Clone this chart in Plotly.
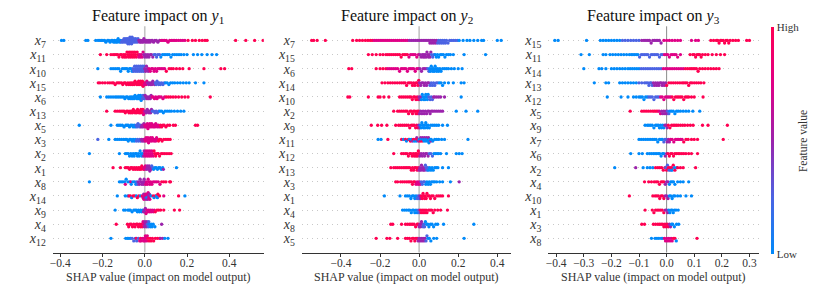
import numpy as np
import plotly.graph_objects as go

# ---------------- data (SHAP values in units of 1e-3, grouped by feature-value level 0..4) -------------
y1_features = ["7", "11", "10", "15", "6", "13", "5", "3", "2", "1", "8", "14", "9", "4", "12"]
y1_points = [
    {0: [-394, -383, -279, -269, -232, -221, -212, -205, -198, -190, -184, -176, -170, -164, -158, -152, -147, -143, -138, -134, -130, -126, -122, -118, -114],
     1: [-110, -106, -102, -98, -95, -92, -89, -86, -84, -82, -80, -78, -76, -74, -72, -70, -68, -66, -64, -62, -60, -58, -55, -52, -49, -46, -43, -40, -36, -32],
     2: [-28, -24, -20, -16, -12, -8, -4, 0, 5, 10, 15, 20, 25, 30, 36, 42, 48, 55, 62, 70],
     3: [78, 86, 94, 102, 110, 118, 126, 134, 142, 150, 160, 170, 180, 190],
     4: [205, 225, 240, 258, 272, 285, 295, 430, 478, 520, 560]},
    {4: [-210, -180, -160, -150, -142, -135, -128, -122, -116, -110, -105, -100, -96, -92, -88, -84, -80, -77, -74, -71, -68, -65, -62, -59, -56, -53, -50, -47, -44, -40, -36, -32],
     3: [-28, -24, -20, -16, -12, -8],
     2: [-4, 0, 5, 10, 15, 20, 26, 32, 38],
     1: [44, 50, 56, 62, 70],
     0: [76, 84, 92, 100, 108, 116, 124, 132, 142, 152, 162, 172, 185, 200, 230, 250, 270, 295, 318, 340]},
    {0: [-222, -160, -150, -140, -130, -122, -114, -106, -98, -90, -84, -78, -72, -66, -60],
     1: [-56, -52, -48, -45, -42, -39, -36, -33, -30, -27, -24, -21, -18, -15, -12, -9, -6, -3],
     2: [0, 4, 8, 12, 16],
     3: [20, 26, 32, 38, 44, 50, 56, 62, 70, 78, 86, 94],
     4: [102, 115, 125, 135, 150, 165, 180, 210, 280, 360, 378]},
    {4: [-220, -212, -200, -188, -175, -165, -155, -148, -140, -132, -125, -118, -110, -104, -98, -92, -86, -80, -75, -70, -66, -62, -58, -54, -50, -46, -42, -38, -35, -32, -29, -26, -23, -20, -17, -14, -11, -8, -5],
     3: [-2, 2, 6, 10],
     2: [14, 18, 22, 26, 30, 34, 38, 42, 46],
     1: [50, 54, 58, 62, 66, 70, 74, 80, 86, 92],
     0: [98, 106, 114, 122, 132, 142, 155, 168, 182, 196, 210, 240, 280]},
    {0: [-210, -180, -170, -160, -150, -140, -132, -124, -116, -108, -100, -94, -88, -82, -76, -70, -66, -62, -58, -54, -50, -46, -42, -38, -35, -32, -29, -26, -23, -20, -17, -14],
     1: [-11, -8, -5, -2],
     2: [2, 6, 10, 14, 18, 22, 26, 30],
     3: [34, 40, 46, 52, 58, 64, 70, 78, 86, 94],
     4: [102, 112, 122, 134, 146, 160, 175, 190, 205, 310]},
    {4: [-180, -140, -130, -120, -112, -104, -98, -92, -86, -80, -75, -70, -66, -62, -58, -54, -50, -46, -42, -38, -34, -30, -27, -24, -21, -18, -15, -12, -9],
     3: [-6, -3, 0],
     2: [4, 8, 12, 16, 20, 24, 28, 32],
     1: [36, 42, 48, 54, 60, 66],
     0: [72, 80, 88, 96, 106, 116, 126, 140, 155, 170, 185]},
    {0: [-310, -160, -130, -122, -114, -106, -98, -90, -84, -78, -72, -66, -60, -55, -50, -45],
     1: [-40, -36, -32, -28, -24, -20],
     2: [-16, -12, -8, -4],
     3: [0, 3, 6, 9, 12, 15, 18, 21, 24, 27, 30, 33, 36, 40, 44, 48, 52, 56, 60, 65, 70],
     4: [75, 80, 86, 92, 100, 108, 118, 135, 145, 240, 250]},
    {0: [-170, -140, -130, -120, -110, -100, -92, -85, -78, -72, -66, -60, -55, -50, -45],
     1: [-222, -40, -35, -30, -25, -20],
     2: [-16, -12, -8, -4],
     3: [0, 3, 6, 9, 12, 15, 18, 21, 24, 27, 30, 33, 36, 40, 44, 48, 52, 56, 60],
     4: [65, 70, 76, 82, 90, 100, 110, 120]},
    {0: [-262, -120, -92, -85, -78, -72, -66, -60, -55, -50, -45, -40, -35, -30, -26, -22, -18, -14, -10],
     2: [-6, -3],
     3: [0, 3, 6, 9, 12, 15, 18, 21, 24, 27, 30, 33, 36, 40],
     4: [44, 48, 52, 58, 64, 70, 78, 86, 95, 105, 115, 125]},
    {4: [-150, -115, -92, -85, -78, -72, -66, -60, -55, -50, -45, -40, -35, -30, -26, -22, -18, -14, -10, -6],
     3: [-3, 0, 3, 6],
     2: [9, 12, 15, 18, 21, 24, 27, 30, 88],
     1: [33, 38],
     0: [42, 48, 54, 60, 66, 72, 78, 85, 150]},
    {0: [-262, -120, -112, -104, -96, -88, -80, -72, -64, -56, -48, -42],
     1: [-38, -34],
     2: [-30, -26, -22, -18, -14, -10, -6, -3, 0],
     3: [-92, -66, 4, 8, 12, 16, 20, 24, 28, 34, 40, 48, 56, 64, 72],
     4: [80, 90, 100, 118, 122]},
    {0: [-130, -92, -80, -62, -40, -20, 10, 30, 44, 55, 60, 190],
     2: [-5, 2, 6, 14, 18, 22],
     3: [-8, -4, 0, 4, 8, 12, 16, 20, 24, 90],
     4: [-75, -68, -55, -48, -35, -28, -12, 40, 50, 62, 70, 160]},
    {0: [-140, -100, -92, -80, -74, -68, -60, -52, -46, -40, -35, -30, -25, -20, -15, -10],
     2: [-6, -3, 0, 3],
     3: [6, 10, 14, 18, 22, 26, 30, 35, 40, 45],
     4: [50, 58, 66, 75, 90, 140, 165]},
    {4: [-135, -82, -76, -70, -64, -58, -52, -46, -40, -35, -30, -25, -20, -16, -12],
     3: [-8, -5],
     2: [-2, 1, 4, 7, 10, 80],
     1: [13, 16, 19],
     0: [22, 26, 30, 35, 40, 48]},
    {0: [-160, -90, -82, -75, -68, 95, 110],
     1: [-60, -52, -45, -38, -30],
     2: [75, 85],
     3: [-24, -18, -12, -6, -3, 0, 3, 6, 9, 12],
     4: [-40, -20, 15, 20, 25, 30, 36, 42, 50, 60, 70]},
]

y2_features = ["7", "15", "6", "14", "10", "2", "9", "11", "12", "13", "3", "1", "4", "8", "5"]
y2_points = [
    {4: [-550, -540, -522, -480, -340, -320, -305, -290, -275, -262, -250, -240],
     3: [-230, -220, -210, -200, -190, -180, -170, -160, -150, -140, -130, -120, -110, -100, -90, -80, -70, -60],
     2: [-50, -40, -30, -20, -10, 0, 10, 20, 30, 40, 50, 55, 60, 65, 70, 75, 80, 85, 90],
     1: [95, 100, 105, 110, 115, 120, 125, 130, 135, 140, 148, 156, 165, 175, 185, 195],
     0: [205, 225, 245, 260, 280, 300, 320, 330, 400, 420]},
    {4: [-260, -240, -220, -200, -185, -170, -160, -150, -140, -130, -120, -110, -100, -92, -84, -76, -68, -60],
     3: [-52, -44, -36, -28, -20, -12, -4],
     2: [4, 10, 16, 20, 24, 28, 32, 36, 40, 44, 48, 52, 56, 60],
     1: [64, 70, 76],
     0: [82, 88, 94, 100, 108, 116, 124, 132, 140, 150, 160, 175, 230, 340]},
    {4: [-360, -345, -220, -200, -185, -170],
     3: [-160, -150, -140, -130, -120, -110, -100, -92, -84, -76, -68, -60, -52, -44, -36, -28, -20, -12, -4],
     2: [4, 12, 20, 28, 36],
     1: [44, 50],
     0: [54, 58, 62, 66, 70, 74, 78, 82, 86, 90, 95, 100, 106, 112, 120, 130, 140, 150, 165, 180, 200, 220]},
    {4: [-190, -175, -160, -148, -136, -124, -112, -100, -90, -80, -72, -64, -56, -48, -40, -34, -28, -22, -16, -10, -6, -2],
     2: [2, 8, 14, 20, 26, 32, 38, 44, 50],
     1: [56, 62, 68, 74, 80, 88, 96],
     0: [104, 112, 120, 130, 150, 175, 215, 230]},
    {4: [-365, -355, -260, -210, -200, -180, -155, -100, -90, -80, -70, -60, -50, -42, -35, -28, -22, -16, -10, -5],
     2: [0, 4, 8, 74, 80, 90, 100, 110, 130],
     0: [12, 16, 20, 24, 28, 30, 34, 38, 42, 46, 215],
     1: [50, 56, 62, 68]},
    {4: [-130, -110, -100, -90, -80, -70, -62, -54, -46, -40, -34, -28, -22, -16, -10, -6, -2],
     2: [2, 8, 14, 20, 26, 32, 38, 44, 50, 56, 62, 70, 80, 90, 100, 110, 120],
     0: [190, 240, 300]},
    {4: [-245, -212, -192, -165, -120, -105, -95, -85, -75, -65, -55, -48, -40, -32, -25, -18, -12, -6],
     2: [-2, 2],
     0: [6, 10, 14, 18, 22, 26, 30, 34, 38, 42, 46, 52, 60, 70, 80, 90, 100, 120, 145]},
    {0: [-210, -195, -80, -65, -50, -40, -25, -15, 0, 10, 20, 25, 30, 35, 40, 45, 50, 55, 62, 70, 80, 90, 100, 115, 130, 250],
     4: [-160, -90, -70, -55, -45, -30, -20, -8, 5, 15],
     2: [-35, -12, -4, 8, 18, 28, 38, 48, 60]},
    {4: [-130, -90, -80, -70, -62, -55, -48, -42, -36, -30, -25, -20, -16, -12, -8, -4, 0],
     2: [4, 10, 16, 22, 28, 34, 40, 46],
     1: [52, 60, 68],
     0: [76, 84, 92, 100, 110, 140, 190, 205, 220]},
    {4: [-145, -130, -120, -110, -100, -90, -80, -72, -64, -56, -48, -40, -34, -28, -22, -16, -10, -5],
     2: [0, 4, 8, 12, 16, 20, 24, 28],
     1: [32, 36, 40, 44],
     0: [48, 54, 60, 66, 72, 80, 88, 96, 120, 150]},
    {4: [-120, -110, -95, -85, -75, -65, -56, -48, -40, -34, -28, -22],
     3: [-16, -10, -5, 0, 5],
     1: [10, 16, 22, 28],
     0: [34, 40, 46, 52, 58, 64, 72, 80, 90, 105, 120, 160],
     2: [205]},
    {0: [-178, -98, -70, -60, -50, -42, -35, -28, -22, -16],
     1: [-10, -5, 0],
     2: [4, 8],
     4: [12, 16, 20, 24, 28, 32, 36, 40, 46, 52, 58, 64, 72, 80, 90, 100, 110, 120, 150]},
    {0: [-85, -75, -65, -55, -48, -40, -34, -28, -22, -16, -10],
     1: [-5, 0],
     4: [5, 10, 15, 20, 25, 30, 35, 40, 48, 56, 64, 72, 80, 95, 110, 145]},
    {4: [-145, -135, -90, -70, -60, -50, -42, -34, -26, -18, -10, -5],
     2: [0, 4, 8, 12, 16],
     1: [20, 24, 28],
     0: [32, 38, 44, 50, 58, 66, 74, 85, 95, 125, 280]},
    {4: [-220, -165, -150, -110, -70, -60, -50, -42, -35, -28, -22, -16, -10],
     2: [-5, 0, 5, 10, 15, 20, 25, 30],
     1: [35, 40],
     0: [45, 52, 60, 75, 90, 230]},
]

y3_features = ["15", "11", "14", "13", "12", "5", "9", "7", "6", "2", "4", "10", "1", "3", "8"]
y3_points = [
    {0: [-405, -393, -290, -240, -230, -220, -210, -200, -190, -180, -170],
     1: [-160, -150, -140, -130, -120, -110, -100],
     2: [-90, -82, -75, -68, -62, -56, -50, -44, -38, -32, -26, -20],
     3: [-10, 0, 10, 20, 30, 40, 50, 90, 105, 115],
     4: [160, 170, 180, 185, 190, 195, 200, 205, 210, 215, 220, 225, 230, 240, 250, 260, 290, 300]},
    {0: [-310, -280, -230, -220, -205, -195, -185, -175, -165, -155, -145, -135, -128, -122, -116, -110, -104],
     1: [-98, -92, -86, -80, -74, -68, -62, -56, -50, -44, -38, -32, -26, -20, -14],
     3: [-8, -2, 4, 10, 16, 22, 28, 34, 40, 50],
     4: [85, 95, 100, 105, 110, 115, 120, 125, 130, 140, 150, 165, 180, 195, 210]},
    {0: [-300, -245, -235, -220, -200, -190, -180, -170, -160, -150, -140, -132, -124, -116, -108, -100],
     1: [-92, -84, -76, -68, -60, -52, -44, -36, -28, -20],
     3: [-12, -4, 4, 12, 20, 28, 36, 44, 52, 60],
     4: [68, 76, 84, 90, 96, 102, 108, 114, 120, 130, 140, 150, 160, 170, 180, 190]},
    {0: [-262, -220, -210, -170, -160, -150, -140, -130, -120, -110],
     1: [-100, -90, -80, -74, -68, -64, -60, -56, -52],
     2: [-48, -44, -40, -36, -32, -28, -24, -20, -16, -12, -8, -4],
     4: [0, 8, 16, 24, 32, 40, 48, 56, 62, 68, 74, 80, 86, 92, 100, 108, 116, 124, 135]},
    {0: [-215, -165, -140, -120, -110, -100, -94, -88, -82, -76, -70],
     1: [-64, -58, -52, -46, -40, -34, -28],
     3: [-22, -16, -10, -4, 2, 8, 14],
     4: [20, 26, 32, 38, 44, 50, 56, 62, 68, 74, 80, 90, 100, 132]},
    {4: [-132, -90, -82, -74, -66, -58, -50, -44, -38, -32],
     3: [-27, -22],
     2: [-18, -14, -10, -6, -2, 1],
     1: [4, 8],
     0: [12, 18, 24, 30, 36, 42, 50, 60, 70, 80, 95, 120]},
    {0: [-78, -70, -64, -58, -52, -46, -40, -35, -30, -26, -22, -18, -14, -10],
     2: [-6, -2, 2],
     4: [6, 12, 18, 24, 30, 36, 42, 50, 58, 66, 76, 86, 96, 130, 150, 220]},
    {0: [-100, -92, -84, -76, -68, -60, -52, -45, -38, -32, -26, -20, -15],
     1: [-10, -6, -2],
     2: [2, 6, 10],
     3: [14, 20, 26, 32, 38, 44, 50, 56],
     4: [62, 70, 78, 90, 100, 112, 205]},
    {0: [-130, -100, -88, -70, -62, -55, -48, -42, -36, -30, -25, -20, -15, -10],
     2: [-5, 0],
     4: [5, 10, 15, 20, 25, 30, 36, 42, 48, 55, 62, 70, 80, 90, 112]},
    {0: [-188, -85, -70, -60, -50, 20, 28, 36],
     2: [-112],
     1: [-3, 3, 9, 15],
     4: [-40, -32, -25, -18, -12, -6, 0, 6, 12, 18, 24, 30, 40, 50, 60, 105]},
    {4: [-80, -65, -55, -45, -38, -32, -26, -20, -15, -10],
     2: [-5, 0, 5],
     0: [10, 15, 20, 25, 30, 40, 50, 60, 80]},
    {4: [-135, -50, -42, -36, -30, -25, -20, -15, -10],
     2: [-5, 0, 5],
     0: [10, 15, 20, 25, 30, 40, 50, 70, 90]},
    {4: [-78, -52, -46, -40, -34, -28, -22, -16, -10],
     2: [-5, 0, 4],
     0: [8, 12, 16, 20, 24, 28, 34, 42]},
    {4: [-90, -80, -48, -40, -32, -26, -20, -14, -10, -6, -2, 2, 6],
     2: [10, 14],
     0: [18, 22, 28, 36, 44]},
    {0: [-55, -42, -35, -28, -20, -14, 35],
     3: [-8, -4, 0, 4, 8, 12, 16, 20],
     4: [24, 30, 110]},
]

panel_titles = ["Feature impact on <i>y</i><sub>1</sub>",
                "Feature impact on <i>y</i><sub>2</sub>",
                "Feature impact on <i>y</i><sub>3</sub>"]
x_title = "SHAP value (impact on model output)"
x_tick_step = [0.2, 0.2, 0.1]
x_ranges = [[-0.435, 0.563], [-0.600, 0.471], [-0.4285, 0.333]]

# ---------------- layout constants ----------------
W, H = 830, 293
x_dom_px = [[50, 261.7], [300, 510], [547.3, 758.3]]
y_top_px, y_bot_px = 26.3, 252.5
FONT = "Liberation Serif, Times New Roman, DejaVu Serif, serif"
TXT = "#333333"

colorscale = [[0.0, "rgb(0,138,250)"], [0.25, "rgb(75,99,227)"], [0.5, "rgb(156,35,172)"],
              [0.75, "rgb(224,0,134)"], [1.0, "rgb(255,0,82)"]]


def swarm_offsets(vals, binw, row_height=0.4):
    """SHAP-style beeswarm vertical offsets."""
    vals = np.asarray(vals, float)
    q = np.round((vals - vals.min()) / binw)
    order = np.argsort(q, kind="stable")
    ys = np.zeros(len(vals))
    layer, last = 0, None
    for idx in order:
        if q[idx] != last:
            layer = 0
        ys[idx] = np.ceil(layer / 2) * ((layer % 2) * 2 - 1)
        layer += 1
        last = q[idx]
    ys *= 0.9 * (row_height / np.max(ys + 1))
    return ys


fig = go.Figure()
panels = [(y1_features, y1_points), (y2_features, y2_points), (y3_features, y3_points)]
ydom = [1 - y_bot_px / H, 1 - y_top_px / H]

for p, (feats, rows) in enumerate(panels):
    n = p + 1
    sx = "x" if n == 1 else f"x{n}"
    sy = "y" if n == 1 else f"y{n}"
    xr = x_ranges[p]
    dpx = x_dom_px[p]
    units_per_px = (xr[1] - xr[0]) / (dpx[1] - dpx[0])
    binw = 2.0 * units_per_px
    xs, ys, cs = [], [], []
    for i, row in enumerate(rows):
        pts = sorted((v / 1000.0, lvl / 4.0) for lvl, vs in row.items() for v in vs)
        v = np.array([a for a, _ in pts])
        c = np.array([b for _, b in pts])
        off = swarm_offsets(v, binw)
        xs.extend(v.tolist())
        ys.extend((i + off).tolist())
        cs.extend(c.tolist())
    marker = dict(size=3.3, color=cs, colorscale=colorscale, cmin=0, cmax=1, line=dict(width=0))
    if p == 0:
        marker.update(showscale=True, colorbar=dict(
            thickness=3, thicknessmode="pixels", len=(254 - 26.7) / H, lenmode="fraction",
            x=770.7 / W, xanchor="left", y=1 - (26.7 + 254) / 2 / H, yanchor="middle",
            outlinewidth=0, tickvals=[0, 1], ticktext=["Low", "High"], ticks="",
            tickfont=dict(family=FONT, size=11, color=TXT), xpad=0, ypad=0))
    fig.add_trace(go.Scatter(x=xs, y=ys, mode="markers", marker=marker,
                             xaxis=sx, yaxis=sy, hoverinfo="skip", showlegend=False))

    ax = "xaxis" if n == 1 else f"xaxis{n}"
    ay = "yaxis" if n == 1 else f"yaxis{n}"
    step = x_tick_step[p]
    tv = np.round(np.arange(np.ceil(xr[0] / step) * step, xr[1] + 1e-9, step), 2)
    fig.update_layout({
        ax: dict(domain=[dpx[0] / W, dpx[1] / W], range=xr, anchor=sy,
                 tickvals=tv.tolist(), ticktext=[("\u2212" if t < 0 else "") + f"{abs(t):.1f}" for t in tv],
                 showline=True, linecolor=TXT, linewidth=1, ticks="outside", ticklen=3,
                 tickcolor=TXT, tickwidth=1, showgrid=False, zeroline=False, ticklabelstandoff=-3,
                 tickfont=dict(family=FONT, size=11.5, color=TXT)),
        ay: dict(domain=ydom, range=[15, -1], anchor=sx,
                 tickvals=list(range(len(feats))),
                 ticktext=[f"<i>x</i><sub>{f}</sub>" for f in feats],
                 ticks="", showline=False, zeroline=False, ticklabelstandoff=6,
                 showgrid=True, gridcolor="#c8c8c8", gridwidth=0.6, griddash="1px,4px",
                 tickfont=dict(family=FONT, size=14, color=TXT)),
    })
    zc, zw = ("#c4c4c4", 1.6) if p < 2 else ("#8c8c8c", 1.0)
    fig.add_shape(type="line", xref=sx, yref=f"{sy} domain", x0=0, x1=0, y0=0, y1=1,
                  line=dict(color=zc, width=zw), layer="below")
    cx = (dpx[0] + dpx[1]) / 2 / W
    fig.add_annotation(text=panel_titles[p], xref="paper", yref="paper",
                       x=cx, y=1 - 17 / H, xanchor="center", yanchor="middle",
                       showarrow=False, font=dict(family=FONT, size=16, color="#111111"))
    fig.add_annotation(text=x_title, xref="paper", yref="paper",
                       x=cx, y=1 - 276.5 / H, xanchor="center", yanchor="middle",
                       showarrow=False, font=dict(family=FONT, size=12, color=TXT))

fig.add_annotation(text="Feature value", xref="paper", yref="paper", x=803 / W, y=1 - 141 / H,
                   textangle=-90, showarrow=False, xanchor="center", yanchor="middle",
                   font=dict(family=FONT, size=11.5, color=TXT))

fig.update_layout(width=W, height=H, margin=dict(l=0, r=0, t=0, b=0),
                  paper_bgcolor="white", plot_bgcolor="white")
fig.write_html("out.html", config={"displayModeBar": False},
               post_script="document.body.style.margin='0';document.body.style.padding='0';")
